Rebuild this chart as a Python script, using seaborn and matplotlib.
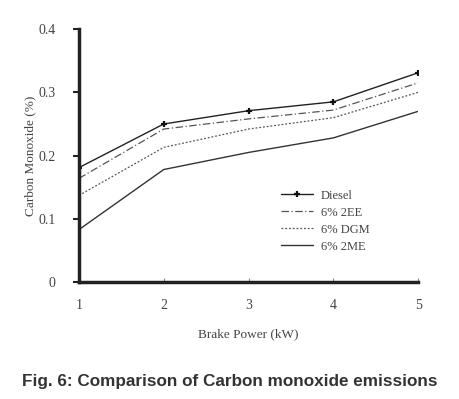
import matplotlib
matplotlib.use("Agg")
import matplotlib.pyplot as plt
import seaborn as sns
import numpy as np

# brake power (kW)
power = [1, 2, 3, 4, 5]
# carbon monoxide (%)
diesel = [0.181, 0.250, 0.271, 0.285, 0.331]
ee_2 = [0.164, 0.242, 0.258, 0.272, 0.315]
dgm = [0.137, 0.213, 0.242, 0.260, 0.300]
me_2 = [0.083, 0.178, 0.205, 0.228, 0.270]

labels = ["Diesel", "6% 2EE", "6% DGM", "6% 2ME"]
y_ticks = [0, 0.1, 0.2, 0.3, 0.4]
y_ticklabels = ["0", "0.1", "0.2", "0.3", "0.4"]

sns.set_style("ticks")
plt.rcParams['font.family'] = ['Liberation Serif', 'DejaVu Serif']

fig = plt.figure(figsize=(4.59, 3.99), dpi=100)
ax = fig.add_axes([0.172, 0.293, 0.739, 0.634])

styles = [
    dict(color="#222222", linestyle="-", marker="+", markersize=5,
         markeredgewidth=1.6, markeredgecolor="#111111", linewidth=1.0),
    dict(color="#555555", linestyle=(0, (6, 2, 1, 2)), linewidth=0.9),
    dict(color="#555555", linestyle=(0, (1.5, 1.5)), linewidth=0.9),
    dict(color="#333333", linestyle="-", linewidth=1.0),
]
for vals, lab, st in zip([diesel, ee_2, dgm, me_2], labels, styles):
    sns.lineplot(x=power, y=vals, ax=ax, label=lab, **st)

ax.set_xlim(1, 5)
ax.set_ylim(0, 0.4)
ax.set_xticks(power)
ax.set_xticklabels([str(p) for p in power])
ax.set_yticks(y_ticks)
ax.set_yticklabels(y_ticklabels)
sns.despine(ax=ax)
for s in ["left", "bottom"]:
    ax.spines[s].set_linewidth(2.5)
    ax.spines[s].set_color("#222222")
ax.tick_params(axis="y", direction="out", length=4, width=1.5, colors="#222222",
               labelsize=10, labelcolor="#444444", pad=13)
ax.tick_params(axis="x", direction="in", length=3, width=0.8, colors="#888888",
               labelsize=10, labelcolor="#444444", pad=12)

ax.set_xlabel("Brake Power (kW)", fontsize=9.5, color="#444444", labelpad=12)
ax.set_ylabel("Carbon Monoxide (%)", fontsize=9.5, color="#444444", labelpad=1)

leg = ax.legend(loc="upper left", bbox_to_anchor=(0.58, 0.385), frameon=False,
                fontsize=9, handlelength=2.6, handletextpad=0.6,
                labelspacing=0.4, borderaxespad=0)
for t in leg.get_texts():
    t.set_color("#444444")

fig.text(0.5, 0.045, "Fig. 6: Comparison of Carbon monoxide emissions",
         ha="center", va="center", fontsize=12.3, fontweight="bold",
         color="#333333", family=["Liberation Sans", "DejaVu Sans"])

fig.savefig("out.png", dpi=100)
